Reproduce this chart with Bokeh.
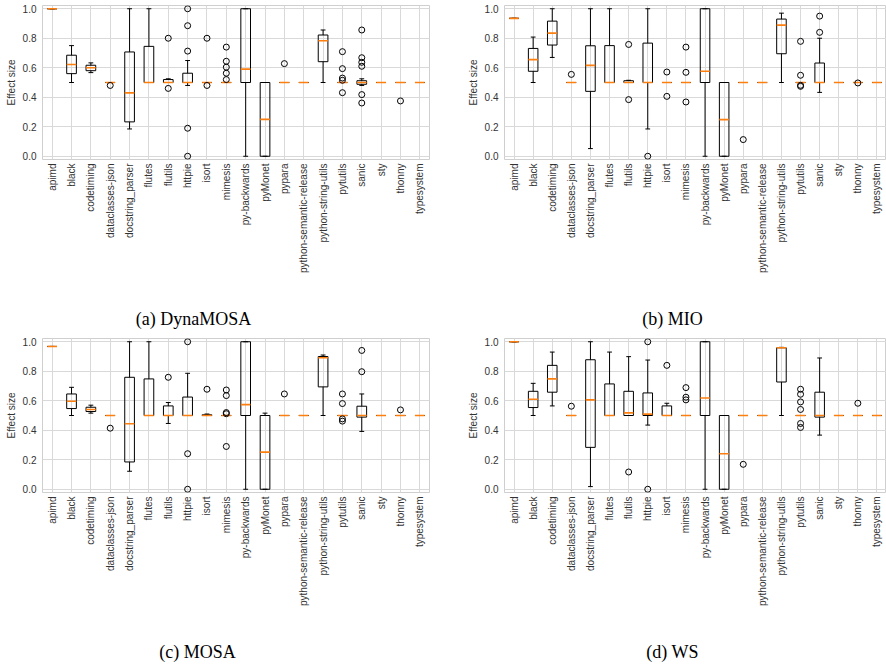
import math
from bokeh.plotting import figure
from bokeh.models import ColumnDataSource, FactorRange, Range1d, NumeralTickFormatter
from bokeh.core.properties import value
from bokeh.layouts import column, row
from bokeh.transform import dodge
from bokeh.embed import file_html
from bokeh.resources import INLINE

projects = ["apimd", "black", "codetiming", "dataclasses-json", "docstring_parser",
            "flutes", "flutils", "httpie", "isort", "mimesis", "py-backwards",
            "pyMonet", "pypara", "python-semantic-release", "python-string-utils",
            "pytutils", "sanic", "sty", "thonny", "typesystem"]
y_ticks = [0.0, 0.2, 0.4, 0.6, 0.8, 1.0]
captions_top = ["(a) DynaMOSA", "(b) MIO"]
captions_bottom = ["(c) MOSA", "(d) WS"]

# (a) DynaMOSA
dyn_lo = [1.0, 0.50, 0.567, 0.5, 0.185, 0.5, 0.5, 0.48, 0.5, 0.5, 0.0, 0.0, 0.5, 0.5, 0.5, 0.5, 0.48, 0.5, 0.5, 0.5]
dyn_q1 = [1.0, 0.56, 0.58, 0.5, 0.233, 0.5, 0.5, 0.5, 0.5, 0.5, 0.5, 0.0, 0.5, 0.5, 0.641, 0.5, 0.488, 0.5, 0.5, 0.5]
dyn_med = [1.0, 0.622, 0.60, 0.5, 0.43, 0.5, 0.5, 0.5, 0.5, 0.5, 0.591, 0.25, 0.5, 0.5, 0.783, 0.5, 0.5, 0.5, 0.5, 0.5]
dyn_q3 = [1.0, 0.685, 0.617, 0.5, 0.707, 0.745, 0.52, 0.563, 0.5, 0.5, 1.0, 0.5, 0.5, 0.5, 0.822, 0.5, 0.512, 0.5, 0.5, 0.5]
dyn_hi = [1.0, 0.75, 0.633, 0.5, 1.0, 1.0, 0.525, 0.649, 0.5, 0.5, 1.0, 0.5, 0.5, 0.5, 0.856, 0.5, 0.525, 0.5, 0.5, 0.5]
dyn_out_proj = ["dataclasses-json", "flutils", "flutils",
                "httpie", "httpie", "httpie", "httpie", "httpie",
                "isort", "isort",
                "mimesis", "mimesis", "mimesis", "mimesis", "mimesis",
                "pypara",
                "pytutils", "pytutils", "pytutils", "pytutils", "pytutils",
                "sanic", "sanic", "sanic", "sanic", "sanic", "sanic",
                "thonny"]
dyn_out_val = [0.48, 0.80, 0.46,
               1.0, 0.885, 0.713, 0.19, 0.0,
               0.80, 0.48,
               0.74, 0.644, 0.604, 0.563, 0.52,
               0.628,
               0.709, 0.594, 0.53, 0.515, 0.431,
               0.856, 0.668, 0.637, 0.61, 0.418, 0.361,
               0.375]

# (b) MIO
mio_lo = [0.935, 0.5, 0.67, 0.5, 0.052, 0.5, 0.5, 0.185, 0.5, 0.5, 0.0, 0.0, 0.5, 0.5, 0.5, 0.5, 0.433, 0.5, 0.5, 0.5]
mio_q1 = [0.935, 0.576, 0.754, 0.5, 0.44, 0.5, 0.5, 0.5, 0.5, 0.5, 0.5, 0.0, 0.5, 0.5, 0.695, 0.5, 0.5, 0.5, 0.5, 0.5]
mio_med = [0.935, 0.655, 0.835, 0.5, 0.616, 0.5, 0.5, 0.5, 0.5, 0.5, 0.576, 0.248, 0.5, 0.5, 0.889, 0.5, 0.5, 0.5, 0.5, 0.5]
mio_q3 = [0.935, 0.731, 0.916, 0.5, 0.749, 0.75, 0.512, 0.767, 0.5, 0.5, 1.0, 0.5, 0.5, 0.5, 0.93, 0.5, 0.632, 0.5, 0.5, 0.5]
mio_hi = [0.935, 0.808, 1.0, 0.5, 1.0, 1.0, 0.515, 1.0, 0.5, 0.5, 1.0, 0.5, 0.5, 0.5, 0.97, 0.5, 0.80, 0.5, 0.5, 0.5]
mio_out_proj = ["dataclasses-json", "flutils", "flutils", "httpie",
                "isort", "isort", "mimesis", "mimesis", "mimesis",
                "pypara",
                "pytutils", "pytutils", "pytutils", "pytutils",
                "sanic", "sanic", "thonny"]
mio_out_val = [0.555, 0.758, 0.384, 0.0,
               0.571, 0.406, 0.74, 0.569, 0.368,
               0.113,
               0.779, 0.549, 0.481, 0.474,
               0.95, 0.84, 0.497]

# (c) MOSA
mosa_lo = [0.968, 0.5, 0.516, 0.5, 0.122, 0.5, 0.446, 0.5, 0.5, 0.5, 0.0, 0.0, 0.5, 0.5, 0.5, 0.5, 0.392, 0.5, 0.5, 0.5]
mosa_q1 = [0.968, 0.547, 0.527, 0.5, 0.185, 0.5, 0.5, 0.5, 0.5, 0.5, 0.5, 0.0, 0.5, 0.5, 0.694, 0.5, 0.489, 0.5, 0.5, 0.5]
mosa_med = [0.968, 0.597, 0.541, 0.5, 0.444, 0.5, 0.5, 0.5, 0.5, 0.5, 0.574, 0.252, 0.5, 0.5, 0.892, 0.5, 0.5, 0.5, 0.5, 0.5]
mosa_q3 = [0.968, 0.646, 0.556, 0.5, 0.759, 0.748, 0.565, 0.625, 0.505, 0.5, 1.0, 0.5, 0.5, 0.5, 0.90, 0.5, 0.563, 0.5, 0.5, 0.5]
mosa_hi = [0.968, 0.691, 0.570, 0.5, 1.0, 1.0, 0.588, 0.786, 0.51, 0.5, 1.0, 0.516, 0.5, 0.5, 0.91, 0.5, 0.646, 0.5, 0.5, 0.5]
mosa_out_proj = ["dataclasses-json", "flutils", "httpie", "httpie", "httpie",
                 "isort", "mimesis", "mimesis", "mimesis", "mimesis", "mimesis",
                 "pypara",
                 "pytutils", "pytutils", "pytutils", "pytutils",
                 "sanic", "sanic", "thonny"]
mosa_out_val = [0.414, 0.759, 1.0, 0.241, 0.0,
                0.678, 0.673, 0.635, 0.52, 0.512, 0.29,
                0.646,
                0.646, 0.581, 0.477, 0.462,
                0.941, 0.797, 0.538]

# (d) WS
ws_lo = [1.0, 0.5, 0.565, 0.5, 0.018, 0.5, 0.5, 0.435, 0.5, 0.5, 0.0, 0.0, 0.5, 0.5, 0.5, 0.5, 0.367, 0.5, 0.5, 0.5]
ws_q1 = [1.0, 0.554, 0.658, 0.5, 0.284, 0.5, 0.5, 0.5, 0.5, 0.5, 0.5, 0.0, 0.5, 0.5, 0.727, 0.5, 0.489, 0.5, 0.5, 0.5]
ws_med = [1.0, 0.61, 0.748, 0.5, 0.606, 0.5, 0.518, 0.509, 0.5, 0.5, 0.619, 0.241, 0.5, 0.5, 0.959, 0.5, 0.5, 0.5, 0.5, 0.5]
ws_q3 = [1.0, 0.664, 0.84, 0.5, 0.878, 0.714, 0.664, 0.653, 0.565, 0.5, 1.0, 0.5, 0.5, 0.5, 0.959, 0.5, 0.658, 0.5, 0.5, 0.5]
ws_hi = [1.0, 0.718, 0.93, 0.5, 1.0, 0.93, 0.899, 0.876, 0.583, 0.5, 1.0, 0.5, 0.5, 0.5, 0.962, 0.5, 0.89, 0.5, 0.5, 0.5]
ws_out_proj = ["dataclasses-json", "flutils", "httpie", "httpie", "isort",
               "mimesis", "mimesis", "mimesis", "pypara",
               "pytutils", "pytutils", "pytutils", "pytutils", "pytutils", "pytutils",
               "thonny"]
ws_out_val = [0.563, 0.117, 1.0, 0.0, 0.84,
              0.689, 0.624, 0.606, 0.169,
              0.678, 0.644, 0.592, 0.541, 0.446, 0.419,
              0.583]

SANS = "Liberation Sans"
SERIF = "Liberation Serif"
TXT = "#333333"
GRID = "#d9d9d9"
TOTAL_W = 886
W_LEFT, W_RIGHT = 462, 424
ROW_H = 300


def make_panel(lo, q1, med, q3, hi, out_proj, out_val, width, bl, br):
    p = figure(x_range=FactorRange(*projects, range_padding=0),
               y_range=Range1d(-0.022, 1.022),
               width=width, height=ROW_H, title=None,
               output_backend="svg", toolbar_location=None,
               min_border_left=bl, min_border_right=br,
               min_border_top=5, min_border_bottom=141)
    p.outline_line_color = "#cfcfcf"
    p.background_fill_color = "white"
    p.border_fill_color = "white"
    p.xgrid.grid_line_color = GRID
    p.ygrid.grid_line_color = GRID
    p.xgrid.grid_line_width = 1
    p.ygrid.grid_line_width = 1

    p.yaxis.ticker = y_ticks
    p.yaxis.formatter = NumeralTickFormatter(format="0.0")
    p.yaxis.axis_label = "Effect size"
    p.yaxis.axis_label_text_font = SANS
    p.yaxis.axis_label_text_font_size = "10px"
    p.yaxis.axis_label_text_font_style = "normal"
    p.yaxis.axis_label_text_color = TXT
    p.yaxis.axis_label_standoff = 3
    for ax in (p.xaxis, p.yaxis):
        ax.axis_line_color = None
        ax.major_tick_line_color = None
        ax.minor_tick_line_color = None
        ax.major_tick_out = 0
        ax.major_tick_in = 0
        ax.major_label_text_font = SANS
        ax.major_label_text_font_size = "10px"
        ax.major_label_text_color = TXT
    p.yaxis.major_label_standoff = 6
    p.xaxis.major_label_standoff = 4
    p.xaxis.major_label_orientation = math.pi / 2

    src = ColumnDataSource(dict(x=projects, lo=lo, q1=q1, med=med, q3=q3, hi=hi))
    left_cap = dodge("x", -0.125, range=p.x_range)
    right_cap = dodge("x", 0.125, range=p.x_range)
    left_med = dodge("x", -0.25, range=p.x_range)
    right_med = dodge("x", 0.25, range=p.x_range)

    p.segment(x0="x", y0="lo", x1="x", y1="q1", source=src, line_color="black", line_width=1)
    p.segment(x0="x", y0="q3", x1="x", y1="hi", source=src, line_color="black", line_width=1)
    p.segment(x0=left_cap, y0="lo", x1=right_cap, y1="lo", source=src, line_color="black", line_width=1)
    p.segment(x0=left_cap, y0="hi", x1=right_cap, y1="hi", source=src, line_color="black", line_width=1)
    p.vbar(x="x", width=0.5, bottom="q1", top="q3", source=src,
           fill_color=None, line_color="black", line_width=1)
    p.segment(x0=left_med, y0="med", x1=right_med, y1="med", source=src,
              line_color="#ff7f0e", line_width=1.6)
    osrc = ColumnDataSource(dict(x=out_proj, y=out_val))
    p.scatter(x="x", y="y", source=osrc, marker="circle", size=6,
              fill_color=None, line_color="black", line_width=1)
    return p


def make_caption_strip(texts, centers, height, text_y):
    c = figure(width=TOTAL_W, height=height, title=None,
               x_range=Range1d(0, TOTAL_W), y_range=Range1d(0, height),
               x_axis_location=None, y_axis_location=None,
               output_backend="svg", toolbar_location=None,
               min_border=0)
    c.outline_line_color = None
    c.xgrid.visible = False
    c.ygrid.visible = False
    c.text(x=centers, y=[text_y] * len(texts), text=texts,
           text_font=value(SERIF), text_font_size="18px", text_color="black",
           text_align="center", text_baseline="middle")
    return c


pa = make_panel(dyn_lo, dyn_q1, dyn_med, dyn_q3, dyn_hi, dyn_out_proj, dyn_out_val,
                W_LEFT, 42, 33)
pb = make_panel(mio_lo, mio_q1, mio_med, mio_q3, mio_hi, mio_out_proj, mio_out_val,
                W_RIGHT, 42, 0)
pc = make_panel(mosa_lo, mosa_q1, mosa_med, mosa_q3, mosa_hi, mosa_out_proj, mosa_out_val,
                W_LEFT, 42, 33)
pd = make_panel(ws_lo, ws_q1, ws_med, ws_q3, ws_hi, ws_out_proj, ws_out_val,
                W_RIGHT, 42, 0)

cap_top = make_caption_strip(captions_top, [193, 672], 33, 15)
cap_bottom = make_caption_strip(captions_bottom, [197, 672], 30, 12)

layout = column(row(pa, pb), cap_top, row(pc, pd), cap_bottom)

with open("out.html", "w") as f:
    f.write(file_html(layout, INLINE))
